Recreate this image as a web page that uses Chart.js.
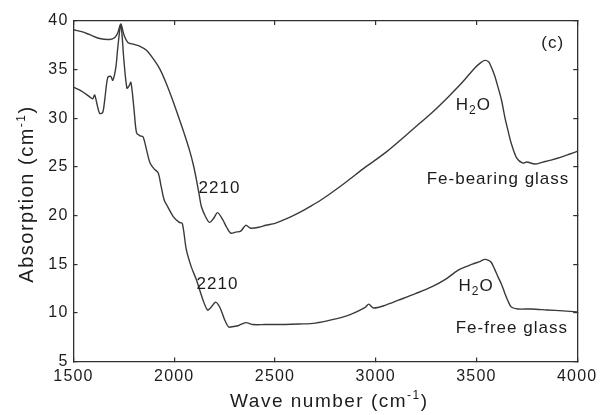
<!DOCTYPE html>
<html>
<head>
<meta charset="utf-8">
<script src="https://cdn.jsdelivr.net/npm/chart.js@4/dist/chart.umd.min.js"></script>
<style>
  html, body { margin: 0; padding: 0; background: #fff; }
  #wrap { width: 604px; height: 415px; }
</style>
</head>
<body>
<div id="wrap"><canvas id="spec"></canvas></div>
<script>
// Fe-bearing glass spectrum (wave number, absorption)
var wnBearing = [1500, 1540, 1580, 1630, 1680, 1705, 1720, 1735, 1750, 1770, 1800, 1830, 1862, 1900, 1930, 1960, 1995, 2027, 2050, 2076, 2095, 2110, 2125, 2135, 2155, 2175, 2195, 2215, 2240, 2260, 2280, 2305, 2330, 2355, 2380, 2420, 2455, 2500, 2537, 2580, 2620, 2680, 2728, 2784, 2850, 2950, 3050, 3197, 3280, 3360, 3430, 3493, 3520, 3541, 3560, 3573, 3590, 3607, 3625, 3641, 3657, 3673, 3700, 3730, 3750, 3790, 3830, 3870, 3920, 3960, 4000];
var absBearing = [39.1, 38.9, 38.6, 38.2, 38.1, 38.3, 38.8, 39.7, 38.6, 37.8, 37.6, 37.4, 37.0, 36.0, 35.0, 33.6, 31.7, 29.8, 28.4, 26.7, 25.2, 23.7, 22.0, 20.9, 19.9, 19.3, 19.7, 20.3, 19.6, 18.8, 18.2, 18.3, 18.4, 19.0, 18.7, 18.8, 19.0, 19.2, 19.5, 19.9, 20.3, 21.0, 21.6, 22.4, 23.4, 25.0, 26.5, 29.1, 30.6, 32.2, 33.7, 35.2, 35.7, 35.95, 35.8, 35.3, 34.4, 33.2, 31.8, 30.1, 28.7, 27.4, 25.9, 25.4, 25.5, 25.3, 25.5, 25.7, 26.0, 26.3, 26.6];

// Fe-free glass spectrum
var wnFree = [1500, 1540, 1580, 1595, 1605, 1615, 1630, 1645, 1655, 1670, 1685, 1695, 1710, 1720, 1735, 1750, 1765, 1775, 1785, 1800, 1813, 1830, 1845, 1862, 1880, 1900, 1920, 1935, 1950, 1968, 1995, 2025, 2040, 2060, 2085, 2110, 2143, 2165, 2180, 2205, 2220, 2232, 2250, 2270, 2295, 2320, 2355, 2390, 2450, 2550, 2620, 2700, 2784, 2870, 2950, 2965, 2990, 3050, 3113, 3200, 3280, 3350, 3410, 3480, 3520, 3541, 3560, 3573, 3590, 3607, 3625, 3641, 3657, 3673, 3706, 3772, 3850, 3930, 4000];
var absFree = [33.2, 32.8, 32.2, 32.0, 32.4, 31.6, 30.5, 30.6, 31.9, 34.2, 34.3, 33.9, 35.2, 37.3, 39.6, 36.0, 33.1, 33.3, 33.7, 31.0, 28.5, 28.2, 28.1, 26.8, 25.4, 24.8, 24.4, 23.0, 21.6, 20.9, 19.9, 19.3, 19.2, 16.5, 14.7, 13.4, 11.3, 10.3, 10.5, 11.1, 10.8, 10.3, 9.3, 8.55, 8.6, 8.7, 9.0, 8.8, 8.8, 8.8, 8.85, 8.95, 9.3, 9.8, 10.6, 10.9, 10.5, 10.8, 11.3, 12.0, 12.7, 13.5, 14.4, 15.0, 15.3, 15.5, 15.4, 15.2, 14.5, 13.7, 12.9, 12.0, 11.2, 10.6, 10.4, 10.4, 10.3, 10.2, 10.1];

var xMin = 1500, xMax = 4000, xStep = 500;
var yMin = 5, yMax = 40, yStep = 5;

// annotations: text, anchor (data coords, left/baseline)
var noteText = ["2210", "2210", "H2O", "H2O", "Fe-bearing glass", "Fe-free glass", "(c)"];
var noteX = [2121, 2111, 3397, 3411, 3253, 3397, 3822];
var noteY = [22.3, 12.45, 30.85, 12.25, 23.25, 7.93, 37.2];

var ink = '#1c1c1c';
var lineInk = '#3a3a3a';
var frameInk = '#303030';
var fam = '"Liberation Sans", Arial, Helvetica, sans-serif';

function toPts(xs, ys) {
    return xs.map(function(x, i) { return {x: x, y: ys[i]}; });
}

// text made of runs, some raised / lowered and smaller
function richText(c, runs, x, y) {
    var cx = x;
    runs.forEach(function(r) {
        c.font = r.size + 'px ' + fam;
        c.fillText(r.t, cx, y + (r.dy || 0));
        cx += c.measureText(r.t).width;
    });
}
function richWidth(c, runs) {
    var w = 0;
    runs.forEach(function(r) {
        c.font = r.size + 'px ' + fam;
        w += c.measureText(r.t).width;
    });
    return w;
}

// frame sides + inward ticks come from the scales themselves
function sideAxis(axis, pos, min, max, step, labels) {
    return {
        type: 'linear',
        axis: axis,
        position: pos,
        min: min,
        max: max,
        afterFit: function(s) {
            if (labels) {
                if (axis === 'x') s.height = 53.5; else s.width = 73.5;
            } else {
                if (axis === 'x') s.height = 0; else s.width = 0;
            }
        },
        grid: { display: true, drawOnChartArea: false, drawTicks: true, tickLength: -4,
                color: frameInk, lineWidth: 1.2 },
        border: { display: true, color: frameInk, width: 1.3 },
        ticks: { display: labels, stepSize: step, color: ink, font: { family: fam, size: 16 },
                 padding: 9, maxRotation: 0, callback: function(v) { return String(v); } }
    };
}

var notePlugin = {
    id: 'specNotes',
    beforeDraw: function(chart) {
        chart.ctx.letterSpacing = '1.2px';
    },
    afterDraw: function(chart) {
        var c = chart.ctx;
        var sx = chart.scales.x, sy = chart.scales.y;
        var L = sx.getPixelForValue(xMin), R = sx.getPixelForValue(xMax);
        c.save();
        c.fillStyle = ink;
        c.textBaseline = 'alphabetic';
        c.textAlign = 'left';
        c.letterSpacing = '1px';
        noteText.forEach(function(t, i) {
            var px = sx.getPixelForValue(noteX[i]);
            var py = sy.getPixelForValue(noteY[i]);
            if (t === 'H2O') {
                richText(c, [{t: 'H', size: 17}, {t: '2', size: 12, dy: 4}, {t: 'O', size: 17}], px, py);
            } else {
                c.font = '17px ' + fam;
                c.fillText(t, px, py);
            }
        });

        // axis titles
        c.letterSpacing = '1.5px';
        var xt = [{t: 'Wave number (cm', size: 19}, {t: '-1', size: 12, dy: -8}, {t: ')', size: 19}];
        var w = richWidth(c, xt);
        richText(c, xt, (L + R) / 2 - w / 2 + 4, 407);

        var yt = [{t: 'Absorption (cm', size: 20}, {t: '-1', size: 12, dy: -8}, {t: ')', size: 20}];
        var wy = richWidth(c, yt);
        c.translate(33, 194);
        c.rotate(-Math.PI / 2);
        richText(c, yt, -wy / 2, 0);
        c.restore();
    }
};

new Chart(document.getElementById('spec'), {
    type: 'scatter',
    data: {
        datasets: [
            { label: 'Fe-bearing glass', data: toPts(wnBearing, absBearing), showLine: true,
              borderColor: lineInk, borderWidth: 1.4, pointRadius: 0, tension: 0.3 },
            { label: 'Fe-free glass', data: toPts(wnFree, absFree), showLine: true,
              borderColor: lineInk, borderWidth: 1.4, pointRadius: 0, tension: 0.3 }
        ]
    },
    options: {
        responsive: true, maintainAspectRatio: false, animation: false,
        layout: { padding: { top: 21, right: 25 } },
        plugins: { legend: { display: false }, tooltip: { enabled: false } },
        scales: {
            x: sideAxis('x', 'bottom', xMin, xMax, xStep, true),
            y: sideAxis('y', 'left', yMin, yMax, yStep, true),
            xTop: sideAxis('x', 'top', xMin, xMax, xStep, false),
            yRight: sideAxis('y', 'right', yMin, yMax, yStep, false)
        }
    },
    plugins: [notePlugin]
});
</script>
</body>
</html>
